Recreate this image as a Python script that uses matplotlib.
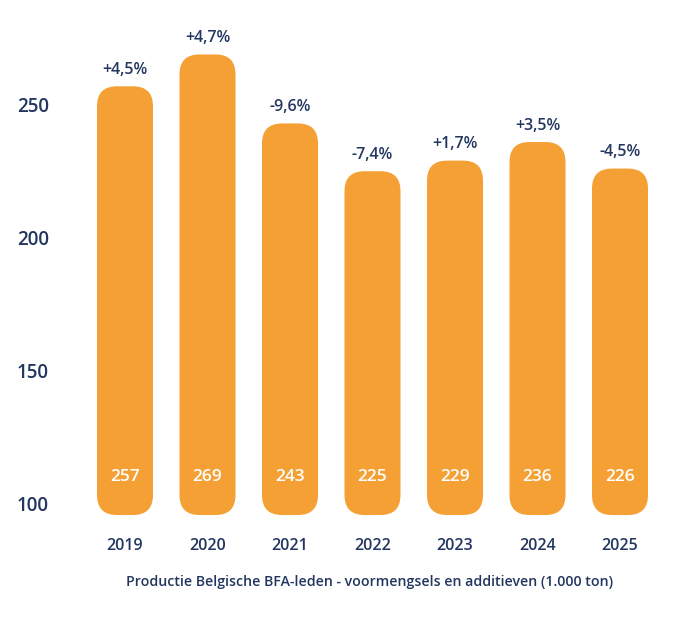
import matplotlib.pyplot as plt
from matplotlib.patches import FancyBboxPatch

# Data
years = ["2019", "2020", "2021", "2022", "2023", "2024", "2025"]
values = [257, 269, 243, 225, 229, 236, 226]
changes = ["+4,5%", "+4,7%", "-9,6%", "-7,4%", "+1,7%", "+3,5%", "-4,5%"]
y_ticks = [100, 150, 200, 250]

orange = "#F5A034"
navy = "#22365F"
plt.rcParams["font.family"] = ["Open Sans", "DejaVu Sans"]

W, H = 695, 624
fig = plt.figure(figsize=(W / 100, H / 100), dpi=100)

# axes placed in pixel terms: x 60..680, y 40..520
ax_l, ax_r, ax_t, ax_b = 60, 680, 40, 520
ax = fig.add_axes([ax_l / W, (H - ax_b) / H, (ax_r - ax_l) / W, (ax_b - ax_t) / H])

px_per_x = 82.5
px_per_y = 133 / 50
ax.set_xlim((ax_l - 125) / px_per_x, (ax_r - 125) / px_per_x)
ylo = 100 - (ax_b - 503) / px_per_y
yhi = 250 + (105 - ax_t) / px_per_y
ax.set_ylim(ylo, yhi)

bar_w = 56 / px_per_x
radius = 20 / px_per_x
aspect = px_per_x / px_per_y
base = 100 - 12 / px_per_y
for i, v in enumerate(values):
    box = FancyBboxPatch((i - bar_w / 2, base), bar_w, v - base,
                         boxstyle=f"round,pad=0,rounding_size={radius}",
                         mutation_aspect=aspect, fc=orange, ec="none")
    ax.add_patch(box)
    ax.annotate(changes[i], (i, v), xytext=(0, 6), textcoords="offset points",
                ha="center", va="bottom", color=navy, fontsize=11.5,
                fontweight="semibold")
    ax.text(i, 100 + (503 - 477) / px_per_y, str(v), ha="center", va="center",
            color="white", fontsize=12.5, fontweight="semibold")

ax.set_xticks(range(len(years)))
ax.set_xticklabels(years, fontsize=11.5, fontweight="semibold", color=navy)
ax.set_yticks(y_ticks)
ax.set_yticklabels([str(t) for t in y_ticks], fontsize=13.5,
                   fontweight="semibold", color=navy)
ax.tick_params(axis="x", length=0, pad=13)
ax.tick_params(axis="y", length=0, pad=8)
for s in ax.spines.values():
    s.set_visible(False)

fig.text(370 / W, 1 - 582 / H,
         "Productie Belgische BFA-leden - voormengsels en additieven (1.000 ton)",
         ha="center", va="center", color=navy, fontsize=10.2, fontweight="semibold")

fig.savefig("out.png", dpi=100)
